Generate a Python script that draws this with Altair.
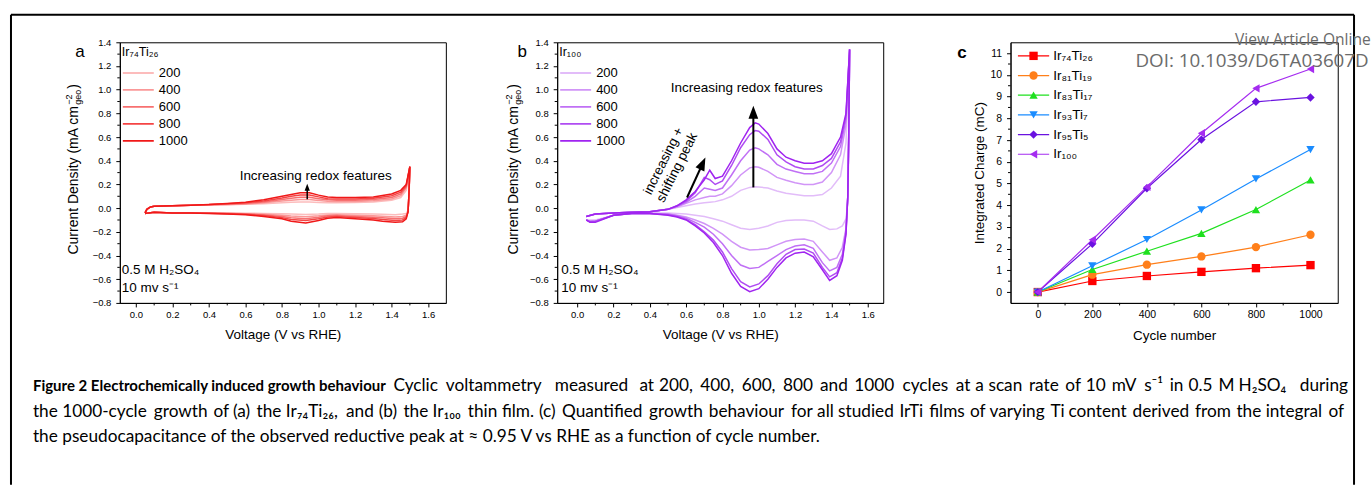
import altair as alt
import pandas as pd

FONT = "Liberation Sans"
CAP_FONT = "Lato"
WM_FONT = "Open Sans"

# ---------------- Panel a : Ir74Ti26 CVs ----------------
CYCLES = ["200", "400", "600", "800", "1000"]
A_COLORS = ["#fcbcbc", "#fa9898", "#f77070", "#f44444", "#f01818"]
B_COLORS = ["#e2bcf9", "#d195f7", "#c070f5", "#b04cf2", "#a024f0"]

A_UP_V = [0.05, 0.06, 0.08, 0.10, 0.20, 0.30, 0.40, 0.50, 0.60, 0.70, 0.80, 0.85,
          0.90, 0.95, 1.00, 1.05, 1.10, 1.20, 1.30, 1.40, 1.45, 1.48, 1.50]
A_UP = {
    "1000": [-0.04, -0.01, 0.01, 0.015, 0.02, 0.025, 0.03, 0.04, 0.05, 0.07, 0.10, 0.115,
             0.13, 0.13, 0.11, 0.095, 0.09, 0.09, 0.095, 0.12, 0.15, 0.20, 0.35],
    "800": [-0.04, -0.01, 0.01, 0.015, 0.02, 0.025, 0.03, 0.037, 0.045, 0.06, 0.085, 0.10,
            0.11, 0.11, 0.095, 0.08, 0.078, 0.078, 0.083, 0.105, 0.135, 0.19, 0.35],
    "600": [-0.04, -0.01, 0.01, 0.015, 0.02, 0.025, 0.028, 0.034, 0.04, 0.052, 0.072, 0.083,
            0.091, 0.091, 0.08, 0.07, 0.067, 0.067, 0.072, 0.09, 0.12, 0.18, 0.35],
    "400": [-0.04, -0.01, 0.01, 0.015, 0.02, 0.025, 0.027, 0.031, 0.036, 0.045, 0.06, 0.067,
            0.072, 0.072, 0.065, 0.058, 0.056, 0.057, 0.062, 0.078, 0.105, 0.17, 0.35],
    "200": [-0.04, -0.01, 0.01, 0.015, 0.02, 0.024, 0.026, 0.028, 0.032, 0.038, 0.045, 0.049,
            0.052, 0.052, 0.048, 0.046, 0.045, 0.047, 0.052, 0.066, 0.09, 0.15, 0.35],
}
A_DN_V = [1.495, 1.49, 1.48, 1.46, 1.42, 1.35, 1.30, 1.20, 1.10, 1.05, 1.00, 0.93,
          0.85, 0.80, 0.70, 0.60, 0.50, 0.40, 0.30, 0.20, 0.10, 0.07, 0.05]
A_DN = {
    "1000": [0.12, -0.03, -0.09, -0.115, -0.12, -0.11, -0.10, -0.09, -0.08, -0.085, -0.105, -0.125,
             -0.11, -0.09, -0.07, -0.055, -0.05, -0.045, -0.04, -0.04, -0.035, -0.04, -0.045],
    "800": [0.12, -0.03, -0.08, -0.10, -0.105, -0.095, -0.088, -0.08, -0.07, -0.074, -0.09, -0.105,
            -0.095, -0.08, -0.063, -0.052, -0.047, -0.043, -0.04, -0.04, -0.035, -0.04, -0.045],
    "600": [0.12, -0.03, -0.07, -0.085, -0.09, -0.082, -0.076, -0.07, -0.062, -0.065, -0.077, -0.09,
            -0.082, -0.07, -0.057, -0.05, -0.045, -0.042, -0.04, -0.04, -0.035, -0.04, -0.045],
    "400": [0.10, -0.03, -0.06, -0.07, -0.074, -0.068, -0.064, -0.06, -0.055, -0.057, -0.065, -0.072,
            -0.067, -0.06, -0.052, -0.047, -0.044, -0.042, -0.04, -0.04, -0.035, -0.04, -0.045],
    "200": [0.08, -0.02, -0.045, -0.05, -0.055, -0.052, -0.05, -0.047, -0.045, -0.046, -0.05, -0.053,
            -0.05, -0.048, -0.045, -0.043, -0.042, -0.041, -0.04, -0.04, -0.035, -0.04, -0.045],
}

# ---------------- Panel b : Ir100 CVs ----------------
B_UP_V = [0.05, 0.10, 0.20, 0.30, 0.40, 0.50, 0.55, 0.60, 0.65, 0.70, 0.73, 0.76, 0.80, 0.85,
          0.90, 0.95, 0.98, 1.00, 1.05, 1.10, 1.15, 1.20, 1.25, 1.30, 1.35, 1.40, 1.45, 1.48, 1.50]
B_UP = {
    "1000": [-0.07, -0.05, -0.04, -0.035, -0.03, -0.01, 0.02, 0.07, 0.14, 0.24, 0.32, 0.25, 0.27, 0.40,
             0.55, 0.68, 0.72, 0.71, 0.63, 0.50, 0.43, 0.40, 0.38, 0.38, 0.40, 0.46, 0.60, 0.80, 1.34],
    "800": [-0.07, -0.05, -0.04, -0.035, -0.03, -0.01, 0.02, 0.06, 0.13, 0.26, 0.24, 0.20, 0.23, 0.36,
            0.51, 0.62, 0.655, 0.65, 0.58, 0.45, 0.39, 0.35, 0.33, 0.33, 0.36, 0.42, 0.56, 0.78, 1.34],
    "600": [-0.07, -0.05, -0.04, -0.035, -0.03, -0.01, 0.015, 0.05, 0.10, 0.17, 0.16, 0.15, 0.17, 0.28,
            0.40, 0.49, 0.51, 0.50, 0.45, 0.37, 0.33, 0.31, 0.29, 0.29, 0.31, 0.38, 0.52, 0.75, 1.34],
    "400": [-0.07, -0.05, -0.04, -0.035, -0.03, -0.01, 0.01, 0.04, 0.07, 0.09, 0.10, 0.10, 0.12, 0.19,
            0.28, 0.34, 0.35, 0.345, 0.31, 0.26, 0.235, 0.215, 0.20, 0.20, 0.22, 0.30, 0.45, 0.70, 1.34],
    "200": [-0.07, -0.05, -0.04, -0.035, -0.03, -0.01, 0.005, 0.02, 0.035, 0.045, 0.05, 0.055, 0.07, 0.10,
            0.15, 0.175, 0.18, 0.178, 0.17, 0.145, 0.125, 0.115, 0.105, 0.105, 0.115, 0.17, 0.27, 0.55, 1.34],
}
B_DN_V = [1.495, 1.49, 1.48, 1.46, 1.43, 1.39, 1.35, 1.30, 1.25, 1.20, 1.15, 1.10, 1.05, 1.00, 0.95,
          0.90, 0.85, 0.80, 0.75, 0.70, 0.65, 0.60, 0.55, 0.50, 0.40, 0.30, 0.20, 0.15, 0.10, 0.07, 0.05]
B_DN = {
    "1000": [0.60, 0.10, -0.22, -0.44, -0.57, -0.61, -0.52, -0.41, -0.37, -0.38, -0.42, -0.50, -0.60, -0.68,
             -0.705, -0.66, -0.55, -0.40, -0.29, -0.21, -0.15, -0.10, -0.075, -0.06, -0.045, -0.045,
             -0.06, -0.09, -0.12, -0.12, -0.10],
    "800": [0.60, 0.10, -0.21, -0.42, -0.545, -0.58, -0.50, -0.38, -0.345, -0.35, -0.39, -0.47, -0.57, -0.64,
            -0.665, -0.62, -0.51, -0.37, -0.27, -0.20, -0.14, -0.095, -0.07, -0.055, -0.045, -0.045,
            -0.06, -0.085, -0.11, -0.115, -0.10],
    "600": [0.60, 0.10, -0.19, -0.39, -0.50, -0.53, -0.46, -0.34, -0.31, -0.32, -0.35, -0.40, -0.45, -0.50,
            -0.51, -0.48, -0.40, -0.30, -0.22, -0.16, -0.12, -0.085, -0.065, -0.05, -0.045, -0.045,
            -0.06, -0.085, -0.11, -0.11, -0.10],
    "400": [0.60, 0.10, -0.17, -0.33, -0.42, -0.44, -0.37, -0.28, -0.26, -0.265, -0.28, -0.31, -0.34, -0.35,
            -0.353, -0.33, -0.28, -0.22, -0.17, -0.13, -0.10, -0.075, -0.06, -0.05, -0.045, -0.045,
            -0.06, -0.085, -0.11, -0.11, -0.10],
    "200": [0.50, 0.05, -0.09, -0.15, -0.175, -0.18, -0.15, -0.11, -0.10, -0.10, -0.105, -0.12, -0.15, -0.17,
            -0.18, -0.17, -0.14, -0.11, -0.09, -0.07, -0.06, -0.05, -0.045, -0.04, -0.04, -0.04,
            -0.06, -0.08, -0.10, -0.10, -0.10],
}

# ---------------- Panel c : integrated charge ----------------
C_CYCLES = [0, 200, 400, 600, 800, 1000]
C_SERIES = ["Ir₇₄Ti₂₆", "Ir₈₁Ti₁₉", "Ir₈₃Ti₁₇", "Ir₉₃Ti₇", "Ir₉₅Ti₅", "Ir₁₀₀"]
C_VALUES = [
    [0.0, 0.51, 0.74, 0.93, 1.10, 1.24],
    [0.0, 0.80, 1.26, 1.64, 2.07, 2.64],
    [0.0, 1.04, 1.88, 2.70, 3.80, 5.16],
    [0.0, 1.21, 2.42, 3.78, 5.21, 6.56],
    [0.0, 2.22, 4.78, 7.02, 8.76, 8.96],
    [0.0, 2.41, 4.84, 7.31, 9.38, 10.27],
]
C_COLORS = ["#ff0000", "#ff7f1a", "#1fe01f", "#1a8cff", "#6a12e0", "#a52cf0"]
C_SHAPES = ["square", "circle", "triangle-up", "triangle-down", "diamond", "triangle-left"]

# ticks
AB_XTICKS = [0.0, 0.2, 0.4, 0.6, 0.8, 1.0, 1.2, 1.4, 1.6]
AB_XMINOR = [0.1, 0.3, 0.5, 0.7, 0.9, 1.1, 1.3, 1.5]
AB_YTICKS = [-0.8, -0.6, -0.4, -0.2, 0.0, 0.2, 0.4, 0.6, 0.8, 1.0, 1.2, 1.4]
AB_YMINOR = [-0.7, -0.5, -0.3, -0.1, 0.1, 0.3, 0.5, 0.7, 0.9, 1.1, 1.3]
C_XTICKS = [0, 200, 400, 600, 800, 1000]
C_XMINOR = [100, 300, 500, 700, 900]
C_YTICKS = [0, 1, 2, 3, 4, 5, 6, 7, 8, 9, 10, 11]
C_YMINOR = [0.5, 1.5, 2.5, 3.5, 4.5, 5.5, 6.5, 7.5, 8.5, 9.5, 10.5]

# annotations (data coordinates)
A_ARROW = {"x": [0.938], "y": [0.075], "x2": [0.938], "y2": [0.176]}
B_ARROW_UP = {"x": [0.97], "y": [0.175], "x2": [0.97], "y2": [0.81]}
B_ARROW_DIAG = {"x": [0.605], "y": [0.09], "x2": [0.691], "y2": [0.377]}
B_ROT_TEXT = {"t": ["increasing +", "shifting peak"], "x": [0.476, 0.55], "y": [0.398, 0.343]}

CAPTION_BOLD = "Figure 2 Electrochemically induced growth behaviour"
CAPTION_L1 = "Cyclic voltammetry measured at 200, 400, 600, 800 and 1000 cycles at a scan rate of 10 mV s⁻¹ in 0.5 M H₂SO₄ during"
CAPTION_L2 = "the 1000-cycle growth of (a) the Ir₇₄Ti₂₆, and (b) the Ir₁₀₀ thin film. (c) Quantified growth behaviour for all studied IrTi films of varying Ti content derived from the integral of"
CAPTION_L3 = "the pseudocapacitance of the observed reductive peak at ≈ 0.95 V vs RHE as a function of cycle number."
CAPTION_Y = [385.7, 411.3, 436.7]
CAP_SIZE = 17.25

HEAD_PATH = "M0,-1L0.75,1L-0.75,1Z"
ONE = pd.DataFrame({"k": [0]})
H = 261
WA, WB, WC = 326.5, 326.5, 327.7
OXA, OYA = 119, 41.5  # panel a origin on the page

XA = alt.Scale(domain=[-0.088, 1.697], nice=False, zero=False)
XB = alt.Scale(domain=[-0.11, 1.685], nice=False, zero=False)
YAB = alt.Scale(domain=[-0.8, 1.4], nice=False, zero=False)
XC = alt.Scale(domain=[-100, 1100], nice=False, zero=False)
YC = alt.Scale(domain=[-0.5, 11.5], nice=False, zero=False)

AX_AB_X = alt.Axis(values=AB_XTICKS, format=".1f", tickSize=4, labelPadding=3, labelFontSize=9.5,
                   labelOverlap=False, title="Voltage (V vs RHE)", titleFontSize=13.5, titlePadding=8)
AX_AB_Y = alt.Axis(values=AB_YTICKS, format=".1f", tickSize=4, labelPadding=5, labelFontSize=9.5,
                   labelOverlap=False, title=None)
AX_C_X = alt.Axis(values=C_XTICKS, format="d", tickSize=4, labelPadding=3, labelFontSize=10.5,
                  labelOverlap=False, title="Cycle number", titleFontSize=13.5, titlePadding=8)
AX_C_Y = alt.Axis(values=C_YTICKS, format="d", tickSize=4, labelPadding=5, labelFontSize=10.5,
                  labelOverlap=False, title="Integrated Charge (mC)", titleFontSize=13.5,
                  titleX=-31, titleY=130.5, titleAngle=270, titleAlign="center", titleBaseline="middle")

# approximate Lato advance widths (em) used only to spread the justified caption lines
LATO_W = {" ": 0.193, ",": 0.22, ".": 0.22, "-": 0.32, "(": 0.3, ")": 0.3, "≈": 0.58,
          "a": 0.49, "b": 0.55, "c": 0.46, "d": 0.55, "e": 0.51, "f": 0.32, "g": 0.5, "h": 0.55,
          "i": 0.23, "j": 0.23, "k": 0.5, "l": 0.23, "m": 0.83, "n": 0.55, "o": 0.55, "p": 0.55,
          "q": 0.55, "r": 0.36, "s": 0.42, "t": 0.34, "u": 0.55, "v": 0.5, "w": 0.76, "x": 0.49,
          "y": 0.5, "z": 0.45, "C": 0.66, "E": 0.56, "I": 0.28, "M": 0.85, "H": 0.74, "O": 0.78,
          "Q": 0.78, "R": 0.6, "S": 0.53, "T": 0.56, "V": 0.67,
          "₀": 0.36, "₁": 0.36, "₂": 0.36, "₄": 0.36, "₆": 0.36, "₇": 0.36, "⁻": 0.36, "¹": 0.36}


def est_width(s, size):
    total = 0.0
    for ch in s:
        if ch in LATO_W:
            total += LATO_W[ch]
        elif ch in "0123456789":
            total += 0.58
        else:
            total += 0.45
    return total * size


def txt(s, x, y, size, font=FONT, weight="normal", align="left", angle=0, color="black"):
    kw = dict(text=s, fontSize=size, font=font, fontWeight=weight, align=align,
              baseline="middle", color=color)
    if angle:
        kw["angle"] = angle
    return alt.Chart(ONE).mark_text(**kw).encode(x=alt.value(x), y=alt.value(y))


def justified(line, x0, x1, y, size):
    """Spread the words of one caption line so that it spans x0..x1 (justified text)."""
    words = line.split(" ")
    sp = est_width(" ", size)
    pos, p = [], 0.0
    for w in words:
        pos.append(p)
        p += est_width(w, size) + sp
    total = p - sp
    f = (x1 - x0) / total
    out = [txt(w, x0 + pp * f, y, size, font=CAP_FONT) for w, pp in zip(words[:-1], pos[:-1])]
    out.append(txt(words[-1], x1, y, size, font=CAP_FONT, align="right"))
    return out


def cv_frame(up_v, up, dn_v, dn):
    rows = []
    for cyc in CYCLES:
        vs = up_v + dn_v
        js = up[cyc] + dn[cyc]
        assert len(vs) == len(js), cyc
        for i, (v, j) in enumerate(zip(vs, js)):
            rows.append({"cycle": cyc, "V": v, "J": j, "i": i})
    return pd.DataFrame(rows)


def minor_ticks(xs, ys, axx, axy, xminor, yminor, h):
    mx = alt.Chart(pd.DataFrame({"v": xminor})).mark_rule(color="black", strokeWidth=1).encode(
        x=alt.X("v:Q", scale=xs, axis=axx), y=alt.value(h), y2=alt.value(h + 2.5))
    my = alt.Chart(pd.DataFrame({"v": yminor})).mark_rule(color="black", strokeWidth=1).encode(
        y=alt.Y("v:Q", scale=ys, axis=axy), x=alt.value(0), x2=alt.value(-2.5))
    return [mx, my]


def arrow(d, xs, ys, width, head_size, angle=0):
    df = pd.DataFrame(d)
    rule = alt.Chart(df).mark_rule(color="black", strokeWidth=width).encode(
        x=alt.X("x:Q", scale=xs, axis=AX_AB_X), y=alt.Y("y:Q", scale=ys, axis=AX_AB_Y),
        x2="x2:Q", y2="y2:Q")
    kw = dict(shape=HEAD_PATH, filled=True, color="black", size=head_size, opacity=1, strokeWidth=0)
    if angle:
        kw["angle"] = angle
    head = alt.Chart(df).mark_point(**kw).encode(
        x=alt.X("x2:Q", scale=xs, axis=AX_AB_X), y=alt.Y("y2:Q", scale=ys, axis=AX_AB_Y))
    return [rule, head]


def ytitle(xc, ybot):
    main_w = 149.0
    return [
        txt("Current Density (mA cm", xc, ybot, 14, angle=270),
        txt("−2", xc - 5, ybot - main_w - 1, 9, angle=270),
        txt("geo", xc + 4, ybot - main_w - 1, 9, angle=270),
        txt(")", xc, ybot - main_w - 17, 14, angle=270),
    ]


def cv_lines(df, xs, colors, title):
    return alt.Chart(df).mark_line(strokeWidth=1.5, interpolate="linear").encode(
        x=alt.X("V:Q", scale=xs, axis=AX_AB_X),
        y=alt.Y("J:Q", scale=YAB, axis=AX_AB_Y),
        color=alt.Color("cycle:N", scale=alt.Scale(domain=CYCLES, range=colors),
                        legend=alt.Legend(title=title, orient="none", legendX=2, legendY=4,
                                          symbolType="stroke", symbolSize=961, symbolStrokeWidth=1.8,
                                          clipHeight=16.5, rowPadding=0, labelFontSize=13,
                                          labelFont=FONT, labelColor="black", labelOffset=4,
                                          titleFontSize=12.5, titleFont=FONT, titleFontWeight="normal",
                                          titleColor="black", titlePadding=6, padding=0)),
        order=alt.Order("i:Q"),
    )


def text_at(d, xs, ys, size, angle=0):
    kw = dict(fontSize=size, font=FONT, color="black", align="center", baseline="middle")
    if angle:
        kw["angle"] = angle
    return alt.Chart(pd.DataFrame(d)).mark_text(**kw).encode(
        x=alt.X("x:Q", scale=xs, axis=AX_AB_X), y=alt.Y("y:Q", scale=ys, axis=AX_AB_Y), text="t:N")


# ---------- panel a ----------
df_a = cv_frame(A_UP_V, A_UP, A_DN_V, A_DN)
border = [
    alt.Chart(ONE).mark_rule(color="black", strokeWidth=2).encode(
        x=alt.value(10 - OXA), y=alt.value(14 - OYA), y2=alt.value(484.5 - OYA)),
    alt.Chart(ONE).mark_rule(color="black", strokeWidth=2).encode(
        x=alt.value(10 - OXA), x2=alt.value(1355 - OXA), y=alt.value(14 - OYA)),
    alt.Chart(ONE).mark_rule(color="black", strokeWidth=2).encode(
        x=alt.value(1355 - OXA), y=alt.value(14 - OYA), y2=alt.value(484.5 - OYA)),
]
caption = [txt(CAPTION_BOLD, 32 - OXA, CAPTION_Y[0] - OYA, 15.0, font=CAP_FONT, weight="bold")]
caption += justified(CAPTION_L1, 393 - OXA, 1349 - OXA, CAPTION_Y[0] - OYA, CAP_SIZE)
caption += justified(CAPTION_L2, 32 - OXA, 1345 - OXA, CAPTION_Y[1] - OYA, CAP_SIZE)
caption.append(txt(CAPTION_L3, 32 - OXA, CAPTION_Y[2] - OYA, CAP_SIZE, font=CAP_FONT))

panel_a = alt.layer(
    cv_lines(df_a, XA, A_COLORS, "Ir₇₄Ti₂₆"),
    *minor_ticks(XA, YAB, AX_AB_X, AX_AB_Y, AB_XMINOR, AB_YMINOR, H),
    *arrow(A_ARROW, XA, YAB, 1.5, 49),
    text_at({"t": ["Increasing redox features"], "x": [0.984], "y": [0.272]}, XA, YAB, 13.5),
    *border, *caption,
    txt("0.5 M H₂SO₄", 2, 228.5, 13.5),
    txt("10 mv s⁻¹", 2, 246.5, 13.5),
    *ytitle(-45.7, 212.5),
    txt("a", -40, 10.2, 17, align="center"),
).properties(width=WA, height=H)

# ---------- panel b ----------
df_b = cv_frame(B_UP_V, B_UP, B_DN_V, B_DN)
panel_b = alt.layer(
    cv_lines(df_b, XB, B_COLORS, "Ir₁₀₀"),
    *minor_ticks(XB, YAB, AX_AB_X, AX_AB_Y, AB_XMINOR, AB_YMINOR, H),
    *arrow(B_ARROW_UP, XB, YAB, 2, 169),
    *arrow(B_ARROW_DIAG, XB, YAB, 2, 169, angle=24.8),
    text_at({"t": ["Increasing redox features"], "x": [0.934], "y": [1.018]}, XB, YAB, 13.5),
    text_at(B_ROT_TEXT, XB, YAB, 13.5, angle=296.5),
    txt("0.5 M H₂SO₄", 4, 228.5, 13.5),
    txt("10 mv s⁻¹", 4, 246.5, 13.5),
    *ytitle(-43.4, 212.5),
    txt("b", -35, 10.2, 17, align="center"),
).properties(width=WB, height=H)

# ---------- panel c ----------
rows = []
for k, (s, vals) in enumerate(zip(C_SERIES, C_VALUES)):
    for cyc, v in zip(C_CYCLES, vals):
        rows.append({"series": s, "k": k, "cycle": cyc, "charge": v})
df_c = pd.DataFrame(rows)
CCS = alt.Scale(domain=C_SERIES, range=C_COLORS)
c_lines = alt.Chart(df_c).mark_line(strokeWidth=1.2).encode(
    x=alt.X("cycle:Q", scale=XC, axis=AX_C_X), y=alt.Y("charge:Q", scale=YC, axis=AX_C_Y),
    color=alt.Color("series:N", scale=CCS, legend=None))
c_points = []
for k, shp in enumerate(C_SHAPES):
    c_points.append(
        alt.Chart(df_c).transform_filter(alt.datum.k == k).mark_point(
            shape=shp, filled=True, size=70, opacity=1).encode(
            x=alt.X("cycle:Q", scale=XC, axis=AX_C_X), y=alt.Y("charge:Q", scale=YC, axis=AX_C_Y),
            color=alt.Color("series:N", scale=CCS, legend=None)))

# hand-drawn legend (line + marker + label), placed in pixels inside the plot
c_legend = []
LEG_X0, LEG_X1, LEG_Y0, LEG_DY = 7.4, 38.7, 13.6, 19.7
for k, (s, col, shp) in enumerate(zip(C_SERIES, C_COLORS, C_SHAPES)):
    yy = LEG_Y0 + LEG_DY * k
    c_legend.append(alt.Chart(ONE).mark_rule(color=col, strokeWidth=1.2).encode(
        x=alt.value(LEG_X0), x2=alt.value(LEG_X1), y=alt.value(yy)))
    c_legend.append(alt.Chart(ONE).mark_point(shape=shp, filled=True, size=70, opacity=1, color=col).encode(
        x=alt.value((LEG_X0 + LEG_X1) / 2), y=alt.value(yy)))
    c_legend.append(txt(s, LEG_X1 + 4, yy, 13.5))

panel_c = alt.layer(
    c_lines, *c_points,
    *minor_ticks(XC, YC, AX_C_X, AX_C_Y, C_XMINOR, C_YMINOR, H),
    *c_legend,
    txt("c", -48.6, 11, 17, weight="bold", align="center"),
    txt("View Article Online", 360.7, -2.4, 15.6, font=WM_FONT, align="right", color="#6b6b6b"),
    txt("DOI: 10.1039/D6TA03607D", 358.7, 18.6, 18.8, font=WM_FONT, align="right", color="#6b6b6b"),
).properties(width=WC, height=H)


def spacer(w):
    return alt.Chart(ONE).mark_point(opacity=0).encode(
        x=alt.value(0), y=alt.value(0)).properties(
        width=w, height=H, view=alt.ViewBackground(stroke="transparent"))


chart = alt.HConcatChart(
    hconcat=[panel_a, spacer(111), panel_b, spacer(126.3), panel_c],
    spacing=0, bounds="flush",
).resolve_scale(
    color="independent"
).properties(
    padding={"left": 9, "top": 13, "right": 0, "bottom": 0}, background="white"
).configure_view(
    stroke="black", strokeWidth=1
).configure_axis(
    grid=False, domainColor="black", tickColor="black", labelColor="black", titleColor="black",
    labelFont=FONT, titleFont=FONT, titleFontWeight="normal", domainWidth=1, tickWidth=1,
    labelFlush=False,
)

chart.save("out.html", embed_options={"renderer": "svg", "actions": False})
